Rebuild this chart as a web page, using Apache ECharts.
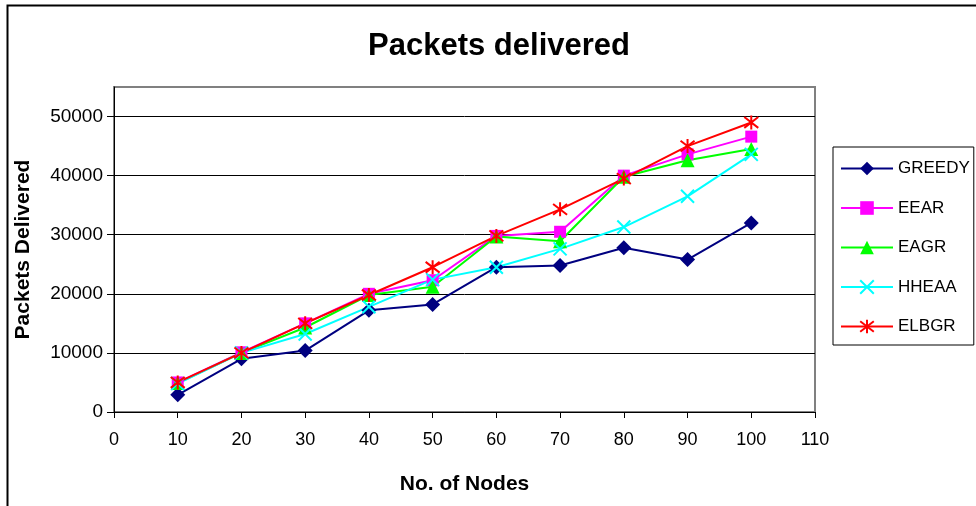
<!DOCTYPE html>
<html>
<head>
<meta charset="utf-8">
<title>Packets delivered</title>
<script src="https://cdn.jsdelivr.net/npm/echarts@6/dist/echarts.min.js"></script>
<style>
  html, body { margin: 0; padding: 0; background: #ffffff; }
  #chart { width: 976px; height: 506px; }
</style>
</head>
<body>
<div id="chart"></div>
<script>
// Number of nodes in the network
const nodes = [10, 20, 30, 40, 50, 60, 70, 80, 90, 100];

// Packets delivered per routing protocol
const greedy = [2900, 9000, 10400, 17200, 18200, 24500, 24800, 27800, 25800, 32000];
const eear   = [5000, 10100, 15000, 20000, 22300, 29800, 30500, 40000, 43600, 46600];
const eagr   = [4900, 10000, 14300, 19800, 21200, 29700, 28900, 39800, 42600, 44500];
const hheaa  = [4800, 10000, 13200, 17800, 22400, 24500, 27600, 31300, 36500, 43600];
const elbgr  = [5000, 10000, 15000, 19800, 24500, 29800, 34300, 39500, 45000, 49000];

const seriesNames = ['GREEDY', 'EEAR', 'EAGR', 'HHEAA', 'ELBGR'];

// Labelled ticks on the value axis
const yTicks = [0, 10000, 20000, 30000, 40000, 50000];

const FONT = 'Liberation Sans, Arial, sans-serif';

function pairs(values) {
  return nodes.map((n, i) => [n, values[i]]);
}

const crossPath = 'path://M0,0L10,10M10,0L0,10';
const starPath = 'path://M0,0L10,10M10,0L0,10M5,-1.5L5,11.5';

function lineSeries(name, values, color, symbol, size, stroked) {
  return {
    name: name,
    type: 'line',
    data: pairs(values),
    color: color,
    symbol: symbol,
    symbolSize: size,
    showAllSymbol: true,
    lineStyle: { color: color, width: 2 },
    itemStyle: stroked
      ? { color: 'rgba(0,0,0,0)', borderColor: color, borderWidth: 2 }
      : { color: color, borderWidth: 0 },
    emphasis: { disabled: true },
    z: 3
  };
}

const chart = echarts.init(document.getElementById('chart'), null, { renderer: 'canvas' });

chart.setOption({
  animation: false,
  backgroundColor: '#ffffff',
  title: {
    text: 'Packets delivered',
    left: 494,
    textAlign: 'center',
    top: 26,
    textStyle: { fontFamily: FONT, fontSize: 31, fontWeight: 'bold', color: '#000000' }
  },
  // plot frame: grey border, left and bottom drawn over by the black axis lines
  grid: {
    left: 114, right: 161, top: 87, bottom: 94, containLabel: false,
    show: true, borderColor: '#808080', borderWidth: 2, backgroundColor: '#ffffff'
  },
  legend: {
    orient: 'vertical',
    left: 833,
    top: 147,
    data: seriesNames,
    itemWidth: 52,
    itemHeight: 17,
    itemGap: 22.5,
    itemTextGap: 4,
    padding: [13, 4, 10, 7],
    borderColor: '#000000',
    borderWidth: 1,
    backgroundColor: '#ffffff',
    textStyle: { fontFamily: FONT, fontSize: 17, color: '#000000' },
    selectedMode: false
  },
  xAxis: {
    type: 'value',
    min: 0,
    max: 110,
    interval: 10,
    name: 'No. of Nodes',
    nameLocation: 'middle',
    nameGap: 62,
    nameTextStyle: { fontFamily: FONT, fontSize: 21, fontWeight: 'bold', color: '#000000' },
    axisLine: { show: true, onZero: false, lineStyle: { color: '#000000', width: 1 } },
    axisTick: { show: true, inside: false, length: 6, lineStyle: { color: '#000000' } },
    axisLabel: { margin: 19, fontFamily: FONT, fontSize: 18, color: '#000000' },
    splitLine: { show: false }
  },
  yAxis: {
    type: 'value',
    min: 0,
    max: 55000,
    interval: 10000,
    name: 'Packets Delivered',
    nameLocation: 'middle',
    nameGap: 80,
    nameTextStyle: { fontFamily: FONT, fontSize: 21, fontWeight: 'bold', color: '#000000' },
    axisLine: { show: true, onZero: false, lineStyle: { color: '#000000', width: 1 } },
    axisTick: { show: true, inside: false, length: 7, customValues: yTicks, lineStyle: { color: '#000000' } },
    axisLabel: {
      margin: 11, fontFamily: FONT, fontSize: 19, color: '#000000',
      customValues: yTicks,
      formatter: (v) => String(v)
    },
    splitLine: { show: true, lineStyle: { color: '#000000', width: 1 } }
  },
  series: [
    lineSeries('GREEDY', greedy, '#000080', 'diamond', 15, false),
    lineSeries('EEAR', eear, '#FF00FF', 'rect', 12, false),
    lineSeries('EAGR', eagr, '#00FF00', 'triangle', 14, false),
    lineSeries('HHEAA', hheaa, '#00FFFF', crossPath, 13, true),
    lineSeries('ELBGR', elbgr, '#FF0000', starPath, 14, true)
  ],
  graphic: [
    {
      type: 'polyline',
      silent: true,
      shape: { points: [[7.5, 506], [7.5, 5.5], [976, 5.5]] },
      style: { stroke: '#000000', lineWidth: 2, fill: null }
    }
  ]
});
</script>
</body>
</html>
